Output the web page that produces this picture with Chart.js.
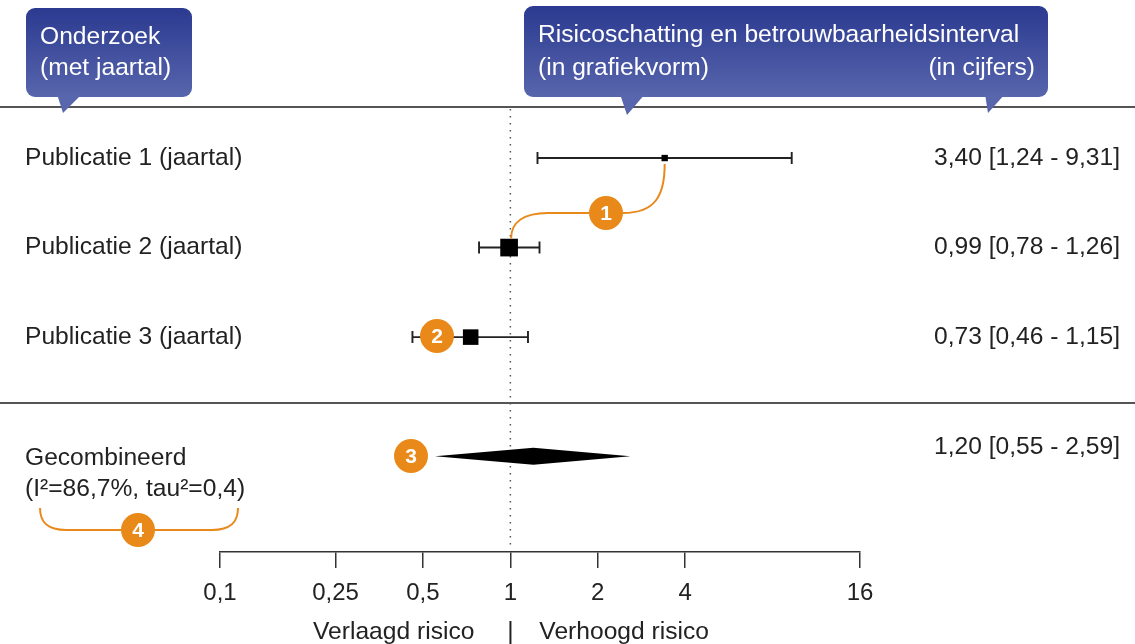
<!DOCTYPE html>
<html>
<head>
<meta charset="utf-8">
<script src="https://cdn.jsdelivr.net/npm/chart.js@4/dist/chart.umd.min.js"></script>
<style>
  html, body { margin: 0; padding: 0; background: #fff; }
  canvas { display: block; }
</style>
</head>
<body>
<canvas id="chart" width="1135" height="644"></canvas>
<script>
// data
const studies = ['Publicatie 1 (jaartal)', 'Publicatie 2 (jaartal)', 'Publicatie 3 (jaartal)']
const estimates = [3.40, 0.99, 0.73]
const lowers = [1.24, 0.78, 0.46]
const uppers = [9.31, 1.26, 1.15]
const rows = [1, 2, 3]
const pooledRow = 4.33
const pooledEstimate = 1.20
const pooledLower = 0.55
const pooledUpper = 2.59
const i2 = '86,7%'
const tau2 = '0,4'
const tickValues = [0.1, 0.25, 0.5, 1, 2, 4, 16]

// styles
const boxRadius = [4.5, 12.5, 11]
const FONT = '"Liberation Sans", Arial, sans-serif'
const LABEL = '24.6px ' + FONT
const TEXT = '#222'
const ORANGE = '#e8891a'

const fmt = v => v.toFixed(2).replace('.', ',')

function roundBox(ctx, x, y, w, h, r) {
    ctx.beginPath()
    ctx.moveTo(x + r, y)
    ctx.arcTo(x + w, y, x + w, y + h, r)
    ctx.arcTo(x + w, y + h, x, y + h, r)
    ctx.arcTo(x, y + h, x, y, r)
    ctx.arcTo(x, y, x + w, y, r)
    ctx.closePath()
}

function callout(ctx, x0, y0, x1, y1, pointers) {
    const g = ctx.createLinearGradient(0, y0, 0, y1)
    g.addColorStop(0, '#2b3990')
    g.addColorStop(1, '#5866ad')
    ctx.fillStyle = g
    roundBox(ctx, x0, y0, x1 - x0, y1 - y0, 9)
    ctx.fill()
    ctx.fillStyle = '#5866ad'
    pointers.forEach(([a, b, tx, ty]) => {
        ctx.beginPath()
        ctx.moveTo(a, y1 - 3)
        ctx.lineTo(b, y1 - 3)
        ctx.lineTo(tx, ty)
        ctx.closePath()
        ctx.fill()
    })
}

function badge(ctx, cx, cy, n) {
    ctx.fillStyle = ORANGE
    ctx.beginPath()
    ctx.arc(cx, cy, 17, 0, Math.PI * 2)
    ctx.fill()
    ctx.fillStyle = '#fff'
    ctx.font = 'bold 21px ' + FONT
    ctx.textAlign = 'center'
    ctx.textBaseline = 'middle'
    ctx.fillText(n, cx, cy + 1)
}

const forestPlugin = {
    id: 'forest',
    beforeDatasetsDraw(chart) {
        const {ctx, scales: {x, y}} = chart
        ctx.save()
        // reference line at 1
        const x1 = x.getPixelForValue(1)
        ctx.strokeStyle = '#555'
        ctx.lineWidth = 1.5
        ctx.setLineDash([1.5, 5.5])
        ctx.beginPath()
        ctx.moveTo(x1, y.top + 2)
        ctx.lineTo(x1, y.bottom - 6)
        ctx.stroke()
        ctx.setLineDash([])

        // confidence intervals
        ctx.strokeStyle = '#222'
        ctx.lineWidth = 1.9
        rows.forEach((r, i) => {
            const py = y.getPixelForValue(r)
            const a = x.getPixelForValue(lowers[i])
            const b = x.getPixelForValue(uppers[i])
            ctx.beginPath()
            ctx.moveTo(a, py); ctx.lineTo(b, py)
            ctx.moveTo(a, py - 6); ctx.lineTo(a, py + 6)
            ctx.moveTo(b, py - 6); ctx.lineTo(b, py + 6)
            ctx.stroke()
        })

        // pooled diamond
        const pd = y.getPixelForValue(pooledRow)
        const pe = x.getPixelForValue(pooledEstimate)
        ctx.fillStyle = '#000'
        ctx.beginPath()
        ctx.moveTo(x.getPixelForValue(pooledLower), pd)
        ctx.lineTo(pe, pd - 8.5)
        ctx.lineTo(x.getPixelForValue(pooledUpper), pd)
        ctx.lineTo(pe, pd + 8.5)
        ctx.closePath()
        ctx.fill()
        ctx.restore()
    },
    afterDraw(chart) {
        const {ctx, scales: {x, y}} = chart
        const W = chart.width
        ctx.save()

        // separators
        ctx.strokeStyle = '#555'
        ctx.lineWidth = 2
        ctx.beginPath()
        ctx.moveTo(0, 107); ctx.lineTo(W, 107)
        ctx.moveTo(0, 403); ctx.lineTo(W, 403)
        ctx.stroke()

        // header callouts
        callout(ctx, 26, 8, 192, 97, [[57, 82, 63, 113]])
        callout(ctx, 524, 6, 1048, 97, [[620, 645, 627, 115], [985, 1005, 988, 113]])
        ctx.fillStyle = '#fff'
        ctx.font = LABEL
        ctx.textBaseline = 'middle'
        ctx.textAlign = 'left'
        ctx.fillText('Onderzoek', 40, 37)
        ctx.fillText('(met jaartal)', 40, 68)
        ctx.fillText('Risicoschatting en betrouwbaarheidsinterval', 538, 35)
        ctx.fillText('(in grafiekvorm)', 538, 68)
        ctx.textAlign = 'right'
        ctx.fillText('(in cijfers)', 1035, 68)

        // row labels
        ctx.fillStyle = TEXT
        rows.forEach((r, i) => {
            const py = y.getPixelForValue(r)
            ctx.textAlign = 'left'
            ctx.fillText(studies[i], 25, py)
            ctx.textAlign = 'right'
            ctx.fillText(`${fmt(estimates[i])} [${fmt(lowers[i])} - ${fmt(uppers[i])}]`, 1120, py)
        })
        const pd = y.getPixelForValue(pooledRow)
        ctx.textAlign = 'left'
        ctx.fillText('Gecombineerd', 25, pd + 2)
        ctx.fillText(`(I²=${i2}, tau²=${tau2})`, 25, pd + 33)
        ctx.textAlign = 'right'
        ctx.fillText(`${fmt(pooledEstimate)} [${fmt(pooledLower)} - ${fmt(pooledUpper)}]`, 1120, pd - 9)

        // axis captions
        const x1 = x.getPixelForValue(1)
        ctx.fillText('Verlaagd risico', x1 - 36, 632)
        ctx.textAlign = 'center'
        ctx.fillText('|', x1, 632)
        ctx.textAlign = 'left'
        ctx.fillText('Verhoogd risico', x1 + 29, 632)

        // orange annotations
        ctx.strokeStyle = ORANGE
        ctx.lineWidth = 2
        const e1x = x.getPixelForValue(estimates[0]), e1y = y.getPixelForValue(rows[0])
        const e2x = x.getPixelForValue(estimates[1]), e2y = y.getPixelForValue(rows[1])
        ctx.beginPath()
        ctx.moveTo(590, 213)
        ctx.lineTo(548, 213)
        ctx.bezierCurveTo(524, 213, e2x + 2, 222, e2x + 2, e2y - 9)
        ctx.moveTo(623, 213)
        ctx.bezierCurveTo(655, 213, e1x, 196, e1x, e1y + 6)
        ctx.stroke()
        ctx.beginPath()
        ctx.moveTo(40, 508)
        ctx.bezierCurveTo(40, 523, 48, 530, 66, 530)
        ctx.lineTo(121, 530)
        ctx.moveTo(155, 530)
        ctx.lineTo(212, 530)
        ctx.bezierCurveTo(230, 530, 238, 523, 238, 508)
        ctx.stroke()
        badge(ctx, 606, 213, '1')
        badge(ctx, 437, 336, '2')
        badge(ctx, 411, 456, '3')
        badge(ctx, 138, 530, '4')
        ctx.restore()
    }
}

new Chart(document.getElementById('chart'), {
    type: 'scatter',
    data: {
        datasets: [{
            data: estimates.map((e, i) => ({x: e, y: rows[i]})),
            pointStyle: 'rect',
            pointRadius: boxRadius,
            backgroundColor: '#000',
            borderColor: '#000',
            borderWidth: 0
        }]
    },
    options: {
        responsive: false,
        animation: false,
        layout: {padding: {left: 220, right: 275, top: 107, bottom: 0}},
        plugins: {legend: {display: false}, tooltip: {enabled: false}},
        scales: {
            x: {
                type: 'logarithmic',
                min: 0.1,
                max: 16,
                position: 'bottom',
                afterBuildTicks: s => { s.ticks = tickValues.map(v => ({value: v})) },
                afterFit: s => { s.height = 92 },
                ticks: {
                    autoSkip: false,
                    maxRotation: 0,
                    padding: 11,
                    color: TEXT,
                    font: {family: FONT, size: 24},
                    callback: v => String(v).replace('.', ',')
                },
                grid: {drawOnChartArea: false, drawTicks: true, tickLength: 16, color: '#333', lineWidth: 1.5},
                border: {display: true, color: '#333', width: 1.5}
            },
            y: {type: 'linear', display: false, reverse: true, min: 0.43, max: 5.40}
        }
    },
    plugins: [forestPlugin]
})
</script>
</body>
</html>
